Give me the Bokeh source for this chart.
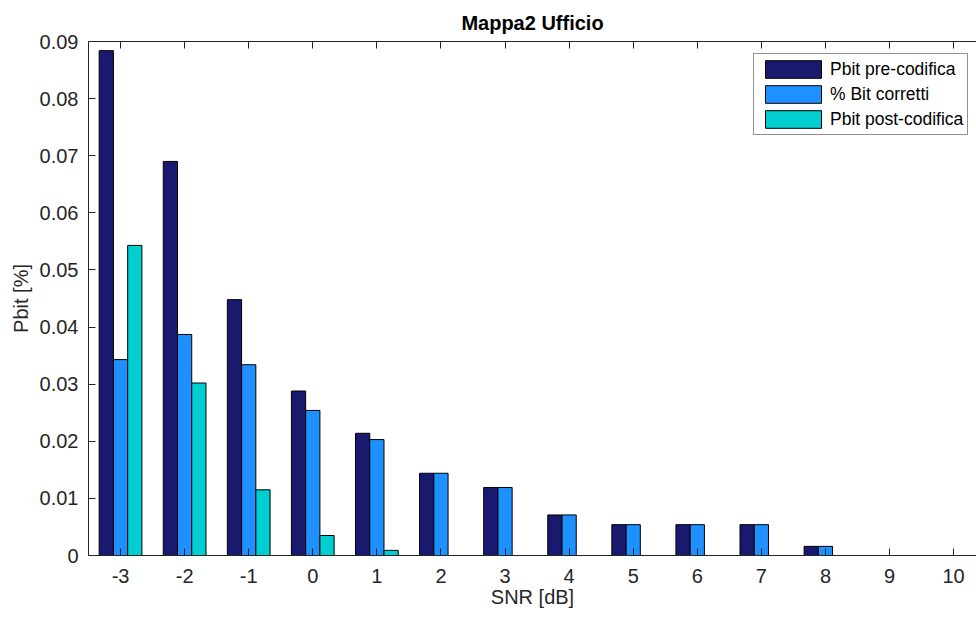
from bokeh.plotting import figure
from bokeh.models import (ColumnDataSource, FixedTicker, LinearAxis, Legend, LegendItem,
                          CustomJSTickFormatter, Range1d)
from bokeh.transform import dodge
from bokeh.embed import file_html
from bokeh.resources import INLINE

snr = [-3, -2, -1, 0, 1, 2, 3, 4, 5, 6, 7, 8, 9, 10]
pbit_pre = [0.0884, 0.0690, 0.0448, 0.0288, 0.0214, 0.0144, 0.0119, 0.0071, 0.0054, 0.0054, 0.0054, 0.0016, 0.0, 0.0]
bit_corretti = [0.0343, 0.0387, 0.0334, 0.0254, 0.0203, 0.0144, 0.0119, 0.0071, 0.0054, 0.0054, 0.0054, 0.0016, 0.0, 0.0]
pbit_post = [0.0543, 0.0302, 0.0115, 0.0035, 0.0009, 0.0, 0.0, 0.0, 0.0, 0.0, 0.0, 0.0, 0.0, 0.0]
series_names = ["Pbit pre-codifica", "% Bit corretti", "Pbit post-codifica"]
series_colors = ["#191970", "#1E90FF", "#00CED1"]
y_ticks = [0, 0.01, 0.02, 0.03, 0.04, 0.05, 0.06, 0.07, 0.08, 0.09]

FONT = "Liberation Sans"
TXT = "#262626"

src = ColumnDataSource(dict(snr=snr, pre=pbit_pre, corr=bit_corretti, post=pbit_post))

p = figure(width=976, height=617, output_backend="svg", toolbar_location=None,
           x_range=Range1d(-3.5, 10.357), y_range=Range1d(0, 0.09),
           min_border_left=88, min_border_right=0, min_border_top=41, min_border_bottom=62,
           title="Mappa2 Ufficio")
p.xgrid.visible = False
p.ygrid.visible = False
p.outline_line_color = None
p.background_fill_color = "white"

p.title.align = "center"
p.title.text_font = FONT
p.title.text_font_size = "20px"
p.title.text_font_style = "bold"
p.title.text_color = "black"
p.title.standoff = 15

w = 2 / 9
cols = ["pre", "corr", "post"]
offs = [-w, 0, w]
rends = []
for c, o, col in zip(cols, offs, series_colors):
    r = p.vbar(x=dodge("snr", o), top=c, width=w, bottom=0, source=src,
               fill_color=col, line_color="black", line_width=1)
    rends.append(r)

for ax in (p.xaxis[0], p.yaxis[0]):
    ax.axis_line_color = TXT
    ax.major_tick_line_color = TXT
    ax.major_tick_in = 7
    ax.major_tick_out = 0
    ax.minor_tick_line_color = None
    ax.major_label_text_font = FONT
    ax.major_label_text_font_size = "20px"
    ax.major_label_text_color = TXT
    ax.axis_label_text_font = FONT
    ax.axis_label_text_font_size = "20px"
    ax.axis_label_text_font_style = "normal"
    ax.axis_label_text_color = TXT

p.xaxis[0].ticker = FixedTicker(ticks=snr)
p.xaxis[0].formatter = CustomJSTickFormatter(code="return tick.toString();")
p.xaxis[0].major_label_standoff = 13
p.xaxis[0].axis_label = "SNR [dB]"
p.xaxis[0].axis_label_standoff = 0

p.yaxis[0].ticker = FixedTicker(ticks=y_ticks)
p.yaxis[0].formatter = CustomJSTickFormatter(code="return tick === 0 ? '0' : tick.toFixed(2);")
p.yaxis[0].major_label_standoff = 10
p.yaxis[0].axis_label = "Pbit [%]"
p.yaxis[0].axis_label_standoff = 5

top_ax = LinearAxis(ticker=FixedTicker(ticks=snr),
                    formatter=CustomJSTickFormatter(code="return '';"),
                    major_label_standoff=0, axis_line_color=TXT, major_tick_line_color=TXT,
                    major_tick_in=7, major_tick_out=0, minor_tick_line_color=None)
p.add_layout(top_ax, "above")

legend = Legend(items=[LegendItem(label=n, renderers=[r]) for n, r in zip(series_names, rends)],
                location=(665, 420))
legend.label_text_font = FONT
legend.label_text_font_size = "17.5px"
legend.label_text_color = "black"
legend.glyph_width = 70
legend.glyph_height = 22
legend.label_height = 22
legend.label_standoff = 2
legend.spacing = 3
legend.padding = 4
legend.margin = 0
legend.border_line_color = TXT
legend.border_line_width = 1
legend.background_fill_color = "white"
legend.background_fill_alpha = 1
p.add_layout(legend, "center")

open("out.html", "w").write(file_html(p, INLINE))
